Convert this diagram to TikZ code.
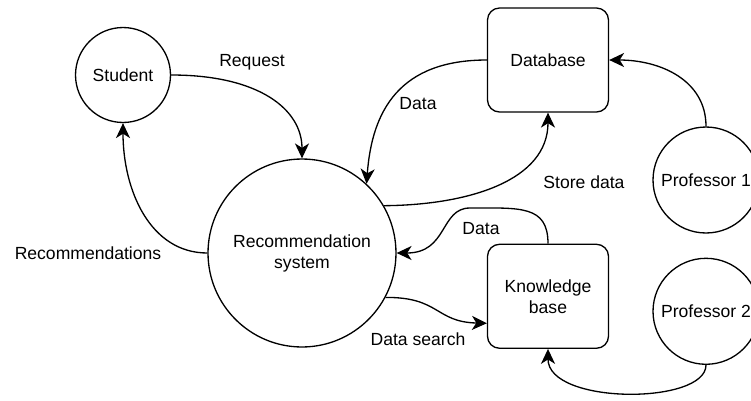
\documentclass[tikz,border=0pt]{standalone}
\usepackage{fontspec}
\setmainfont{Liberation Sans}
\usepackage{tikz}
\usetikzlibrary{arrows.meta, positioning}
\tikzstyle{actor} = [circle, draw=black, line width=0.75pt, minimum size=2.12cm, inner sep=0pt, align=center]
\tikzstyle{store} = [rectangle, rounded corners=0.24cm, minimum width=2.42cm, minimum height=2.08cm, align=center, draw=black, line width=0.75pt]
\tikzstyle{arrow} = [line width=0.75pt, -{Stealth[length=8.5pt, width=8pt, inset=2.5pt]}]

\begin{document}
\begin{tikzpicture}[x=0.02cm, y=-0.02cm, font=\fontsize{10}{12}\selectfont]

				\useasboundingbox (0,0) rectangle (751,400);

				% Nodes for people and system
				\node (student) [actor, minimum size=1.9cm] at (123,75) {Student};
				\node (recsystem) [actor, minimum size=3.76cm] at (302,253) {Recommendation\\system};
				\node (professorone) [actor] at (706,180) {Professor 1};
				\node (professortwo) [actor, below=0.48cm of professorone] {Professor 2};

				% Nodes for stores
				\node (database) [store] at (548,60) {Database};
				\node (knowledgebase) [store, below=2.62cm of database] {Knowledge\\base};

				% Arrows for student
				\draw [arrow] (student.east) .. controls (260,75) and (302,110) .. (recsystem.north);
				\draw [arrow] (recsystem.west) .. controls (150,253) and (123,190) .. (student.south);

				% Arrows for database
				\draw [arrow] (database.west) .. controls (400,60) and (372,110) .. (recsystem.47);
				\draw [arrow] (recsystem.30) .. controls (470,205) and (548,180) .. (database.south);
				\draw [arrow] (professorone.north) .. controls (706,80) and (660,60) .. (database.east);

				% Arrows for knowledge base
				\draw [arrow] (knowledgebase.north) .. controls (548,205) and (520,208) .. (470,208) .. controls (440,208) and (448,253) .. (recsystem.east);
				\draw [arrow] (recsystem.-28) .. controls (440,297) and (435,322) .. ([yshift=-0.54cm]knowledgebase.west);
				\draw [arrow] (professortwo.south) .. controls (706,405) and (548,405) .. (knowledgebase.south);

				% Labels
				\node (requestlabel) at (252,62) {Request};
				\node (recslabel) at (88,253) {Recommendations};
				\node (datalabelone) at (418,104) {Data};
				\node (storelabel) at (584,182) {Store data};
				\node (datalabeltwo) at (481,229) {Data};
				\node (searchlabel) at (418,339) {Data search};

			\end{tikzpicture}
\end{document}
